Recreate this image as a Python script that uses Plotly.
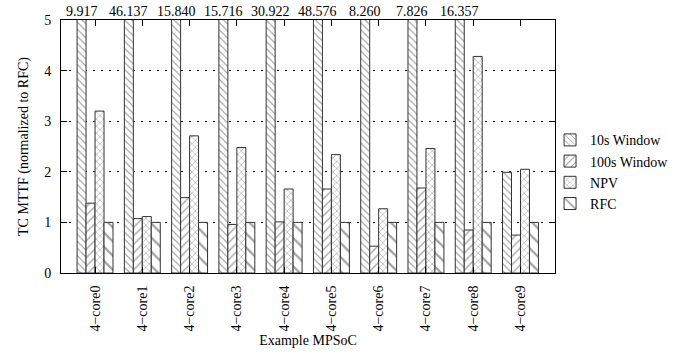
import plotly.graph_objects as go

categories = ["4−core0", "4−core1", "4−core2", "4−core3", "4−core4",
              "4−core5", "4−core6", "4−core7", "4−core8", "4−core9"]
win10 = [9.917, 46.137, 15.840, 15.716, 30.922, 48.576, 8.260, 7.826, 16.357, 1.99]
win100 = [1.38, 1.075, 1.49, 0.96, 1.01, 1.66, 0.53, 1.68, 0.85, 0.75]
npv = [3.2, 1.115, 2.71, 2.48, 1.66, 2.34, 1.27, 2.46, 4.28, 2.05]
rfc = [1, 1, 1, 1, 1, 1, 1, 1, 1, 1]

series_names = ["10s Window", "100s Window", "NPV", "RFC"]
series_vals = [win10, win100, npv, rfc]
patterns = [("\\", 5), ("/", 6), ("x", 5), ("\\", 10)]

YMAX = 5
FONT = "Liberation Serif"

fig = go.Figure()
xs = list(range(len(categories)))
for name, vals, (shape, size) in zip(series_names, series_vals, patterns):
    fig.add_trace(go.Bar(
        x=xs, y=vals, name=name,
        marker=dict(color="white",
                    line=dict(color="#333333", width=1),
                    pattern=dict(shape=shape, size=size, solidity=0.22,
                                 fgcolor="#444444", bgcolor="white")),
    ))

n_series = len(series_names)
group_w = 0.76
bar_w = group_w / n_series
for i, v in enumerate(win10):
    if v > YMAX:
        fig.add_annotation(x=i - group_w / 2 + bar_w / 2, y=1.0, xref="x", yref="paper",
                           yanchor="bottom", text=f"{v:.3f}", showarrow=False,
                           font=dict(size=14, family=FONT, color="black"), yshift=-1)

axis_common = dict(showline=True, linecolor="black", linewidth=1, mirror="ticks",
                   ticks="inside", ticklen=6, tickcolor="black", automargin=False,
                   tickfont=dict(size=14, family=FONT, color="black"))

fig.update_layout(
    width=691, height=354,
    margin=dict(l=61, r=136, t=20, b=81),
    paper_bgcolor="white", plot_bgcolor="white",
    barmode="group", bargap=1 - group_w, bargroupgap=0,
    font=dict(family=FONT, size=14, color="black"),
    showlegend=True,
    legend=dict(x=0.99, y=0.40, xanchor="left", yanchor="middle",
                font=dict(size=14, family=FONT), tracegroupgap=0,
                bgcolor="rgba(0,0,0,0)"),
    xaxis=dict(range=[-0.72, 9.73], tickmode="array", tickvals=xs, ticktext=categories,
               tickangle=-90, showgrid=False, zeroline=False, ticklabelstandoff=6,
               title=dict(text="Example MPSoC", font=dict(size=14, family=FONT), standoff=4),
               **axis_common),
    yaxis=dict(range=[0, YMAX], tickvals=[0, 1, 2, 3, 4, 5], showgrid=True,
               gridcolor="black", griddash="2px,6px", gridwidth=1, zeroline=False,
               ticklabelstandoff=6,
               title=dict(text="TC MTTF (normalized to RFC)", font=dict(size=14, family=FONT), standoff=12),
               **axis_common),
)

fig.write_html("out.html", config={"displayModeBar": False},
               post_script="document.body.style.margin='0';document.body.style.overflow='hidden';")
